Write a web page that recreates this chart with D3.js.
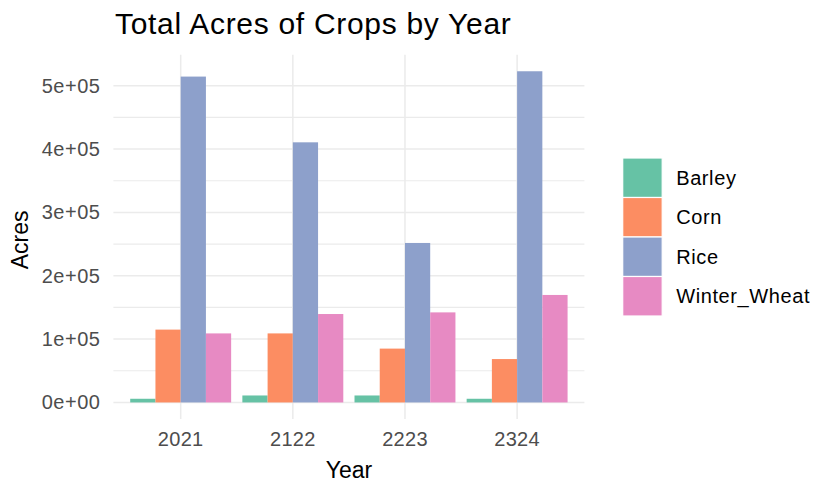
<!DOCTYPE html>
<html>
<head>
<meta charset="utf-8">
<script src="https://cdn.jsdelivr.net/npm/d3@7"></script>
<style>
  body { margin: 0; background: #fff; }
  text { font-family: "Liberation Sans", Arial, sans-serif; }
</style>
</head>
<body>
<script>
// values
let years = ["2021", "2122", "2223", "2324"];
let crops = ["Barley", "Corn", "Rice", "Winter_Wheat"];
let barley = [5800, 11000, 11000, 5800];
let corn = [115000, 109000, 85000, 68500];
let rice = [514500, 410700, 251800, 522900];
let winterWheat = [109000, 139600, 142200, 169700];
let cropColors = ["#66C2A5", "#FC8D62", "#8DA0CB", "#E78AC3"];
let yTicks = [0, 100000, 200000, 300000, 400000, 500000];
let yTickLabels = ["0e+00", "1e+05", "2e+05", "3e+05", "4e+05", "5e+05"];
let yMinorTicks = [50000, 150000, 250000, 350000, 450000];

let series = [barley, corn, rice, winterWheat];
let rows = [];
years.forEach((yr, i) => {
  crops.forEach((c, j) => {
    rows.push({ year: yr, crop: c, value: series[j][i] });
  });
});

let W = 813, H = 483;
let panel = { left: 113.4, right: 584.4, top: 54.7, bottom: 419 };

let svg = d3.select("body").append("svg")
  .attr("width", W)
  .attr("height", H);

let x = d3.scaleBand()
  .domain(years)
  .range([panel.left, panel.right])
  .paddingInner(0.1)
  .paddingOuter(0.15);

let xSub = d3.scaleBand()
  .domain(crops)
  .range([0, x.bandwidth()])
  .padding(0);

let yMax = d3.max(rows, d => d.value);
let y = d3.scaleLinear()
  .domain([-0.05 * yMax, 1.05 * yMax])
  .range([panel.bottom, panel.top]);

let color = d3.scaleOrdinal().domain(crops).range(cropColors);

// grid
let grid = svg.append("g");
grid.selectAll(".minor")
  .data(yMinorTicks)
  .enter().append("line")
    .attr("x1", panel.left).attr("x2", panel.right)
    .attr("y1", d => y(d)).attr("y2", d => y(d))
    .attr("stroke", "#EBEBEB").attr("stroke-width", 1.2);
grid.selectAll(".major")
  .data(yTicks)
  .enter().append("line")
    .attr("x1", panel.left).attr("x2", panel.right)
    .attr("y1", d => y(d)).attr("y2", d => y(d))
    .attr("stroke", "#EBEBEB").attr("stroke-width", 1.5);
grid.selectAll(".vmajor")
  .data(years)
  .enter().append("line")
    .attr("x1", d => x(d) + x.bandwidth() / 2).attr("x2", d => x(d) + x.bandwidth() / 2)
    .attr("y1", panel.top).attr("y2", panel.bottom)
    .attr("stroke", "#EBEBEB").attr("stroke-width", 1.5);

// bars
svg.append("g").selectAll("rect")
  .data(rows)
  .enter().append("rect")
    .attr("x", d => x(d.year) + xSub(d.crop))
    .attr("y", d => y(d.value))
    .attr("width", xSub.bandwidth())
    .attr("height", d => y(0) - y(d.value))
    .attr("fill", d => color(d.crop));

// axes
let yAxis = svg.append("g")
  .attr("transform", "translate(" + panel.left + ",0)")
  .call(d3.axisLeft(y).tickValues(yTicks).tickSize(0).tickPadding(13)
    .tickFormat((d, i) => yTickLabels[i]));
yAxis.select(".domain").remove();
yAxis.selectAll("text")
  .attr("fill", "#4D4D4D").style("font-size", "20px").attr("letter-spacing", "0.5px");

let xAxis = svg.append("g")
  .attr("transform", "translate(0," + panel.bottom + ")")
  .call(d3.axisBottom(x).tickSize(0).tickPadding(13));
xAxis.select(".domain").remove();
xAxis.selectAll("text")
  .attr("fill", "#4D4D4D").style("font-size", "20px").attr("letter-spacing", "0.3px");

// titles
svg.append("text")
  .attr("x", 115).attr("y", 34)
  .style("font-size", "30px").attr("letter-spacing", "0.7px")
  .attr("fill", "#000")
  .text("Total Acres of Crops by Year");

svg.append("text")
  .attr("x", (panel.left + panel.right) / 2).attr("y", 478)
  .attr("text-anchor", "middle")
  .style("font-size", "23px")
  .attr("fill", "#000")
  .text("Year");

svg.append("text")
  .attr("transform", "translate(28," + ((panel.top + panel.bottom) / 2 + 3) + ") rotate(-90)")
  .attr("text-anchor", "middle")
  .style("font-size", "23px")
  .attr("fill", "#000")
  .text("Acres");

// legend
let keyH = 39.5, keyW = 39.5;
let legend = svg.append("g").attr("transform", "translate(622.7,158)");
let items = legend.selectAll("g")
  .data(crops)
  .enter().append("g")
    .attr("transform", (d, i) => "translate(0," + i * keyH + ")");
items.append("rect")
  .attr("width", keyW).attr("height", keyH)
  .attr("fill", d => color(d))
  .attr("stroke", "#fff").attr("stroke-width", 1.2);
items.append("text")
  .attr("x", 53.5).attr("y", keyH / 2)
  .attr("dy", "0.35em")
  .style("font-size", "20px").attr("letter-spacing", "0.6px")
  .attr("fill", "#000")
  .text(d => d);
</script>
</body>
</html>
